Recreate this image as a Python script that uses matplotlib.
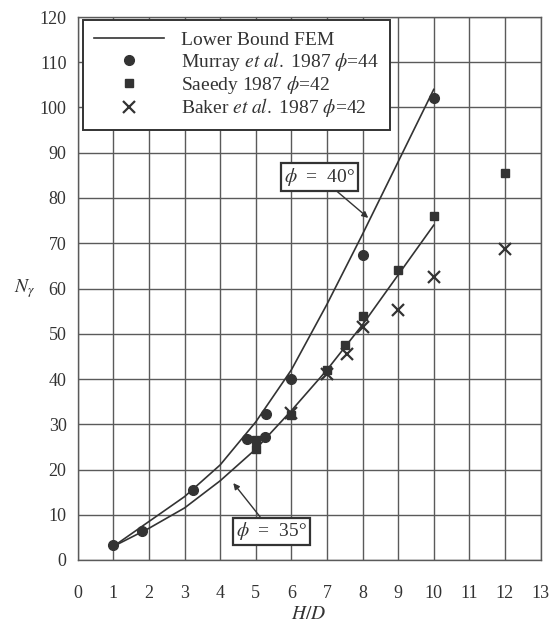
import matplotlib
matplotlib.use("Agg")
import matplotlib.pyplot as plt
from matplotlib.lines import Line2D

plt.rcParams['font.family'] = ['Liberation Serif', 'DejaVu Serif']
plt.rcParams['mathtext.fontset'] = 'stix'

# --- data ---
fem_x = [1, 2, 3, 4, 5, 6, 7, 8, 9, 10]
fem40_y = [3, 8.5, 14, 21, 30.5, 42, 56.5, 72, 88, 104]
fem35_y = [3, 7, 11.5, 17.5, 24.5, 33, 42, 52, 63, 74]

murray_x = [1, 1.8, 3.25, 4.75, 5.25, 5.3, 6, 8, 10]
murray_y = [3.3, 6.3, 15.5, 26.8, 27.2, 32.3, 40, 67.3, 102.2]

saeedy_x = [5, 5, 6, 7, 7.5, 8, 9, 10, 12]
saeedy_y = [24.5, 26.5, 32, 42, 47.5, 54, 64, 76, 85.5]

baker_x = [6, 7, 7.55, 8, 9, 10, 12]
baker_y = [32.5, 41, 45.5, 51.5, 55.2, 62.6, 68.8]

xticks = list(range(0, 14))
yticks = list(range(0, 130, 10))

INK = '#333333'
GRID = '#5a5a5a'

fig = plt.figure(figsize=(5.5, 6.25), dpi=100)
ax = fig.add_axes([0.1413, 0.104, 0.8415, 0.8688])

ax.plot(fem_x, fem40_y, color=INK, lw=1.2, zorder=3)
ax.plot(fem_x, fem35_y, color=INK, lw=1.2, zorder=3)
ax.plot(murray_x, murray_y, 'o', color=INK, ms=7, zorder=4)
ax.plot(saeedy_x, saeedy_y, 's', color=INK, ms=6, zorder=4)
ax.plot(baker_x, baker_y, 'x', color=INK, ms=8, mew=1.6, zorder=4)

ax.set_xlim(0, 13)
ax.set_ylim(0, 120)
ax.set_xticks(xticks)
ax.set_yticks(yticks)
ax.grid(True, color=GRID, lw=1.0, zorder=1)
ax.set_axisbelow(True)
ax.tick_params(length=0, labelsize=13, labelcolor=INK)
ax.tick_params(axis='x', pad=18)
ax.tick_params(axis='y', pad=8)
for s in ax.spines.values():
    s.set_color(GRID)
    s.set_linewidth(1.0)

ax.set_xlabel('$H/D$', fontsize=14, color=INK, va='center')
ax.xaxis.set_label_coords(0.5, -0.101)
ax.set_ylabel(r'$N_\gamma$', fontsize=14, color=INK, rotation=0, va='center', ha='center')
ax.yaxis.set_label_coords(-0.115, 0.50)

box = dict(boxstyle='square,pad=0.15', fc='white', ec=INK, lw=1.6)
arr = dict(arrowstyle='-|>', color=INK, lw=1.0, shrinkA=0, shrinkB=0, mutation_scale=9)
ax.annotate(r'$\phi$  =  40°', xy=(8.16, 75.6), xytext=(6.8, 84.7), ha='center', va='center',
            fontsize=14, color=INK, bbox=box, arrowprops=arr, zorder=5)
ax.annotate(r'$\phi$  =  35°', xy=(4.37, 17), xytext=(5.45, 6.3), ha='center', va='center',
            fontsize=14, color=INK, bbox=box, arrowprops=arr, zorder=5)

handles = [
    Line2D([], [], color=INK, lw=1.2),
    Line2D([], [], marker='o', ls='none', color=INK, ms=7),
    Line2D([], [], marker='s', ls='none', color=INK, ms=6),
    Line2D([], [], marker='x', ls='none', color=INK, ms=8, mew=1.6),
]
labels = [
    'Lower Bound FEM',
    r'Murray $\it{et\ al.}$ 1987 $\phi$=44',
    r'Saeedy 1987 $\phi$=42',
    r'Baker $\it{et\ al.}$ 1987 $\phi$=42',
]
leg = ax.legend(handles, labels, loc='upper left', bbox_to_anchor=(0.0115, 0.994),
                borderaxespad=0, fontsize=14, fancybox=False, framealpha=1,
                edgecolor=INK, handlelength=3.6, labelspacing=0.05,
                borderpad=0.55, handletextpad=0.9)
leg.get_frame().set_linewidth(1.4)
for t in leg.get_texts():
    t.set_color(INK)

fig.savefig('out.png', dpi=100, facecolor='white')
